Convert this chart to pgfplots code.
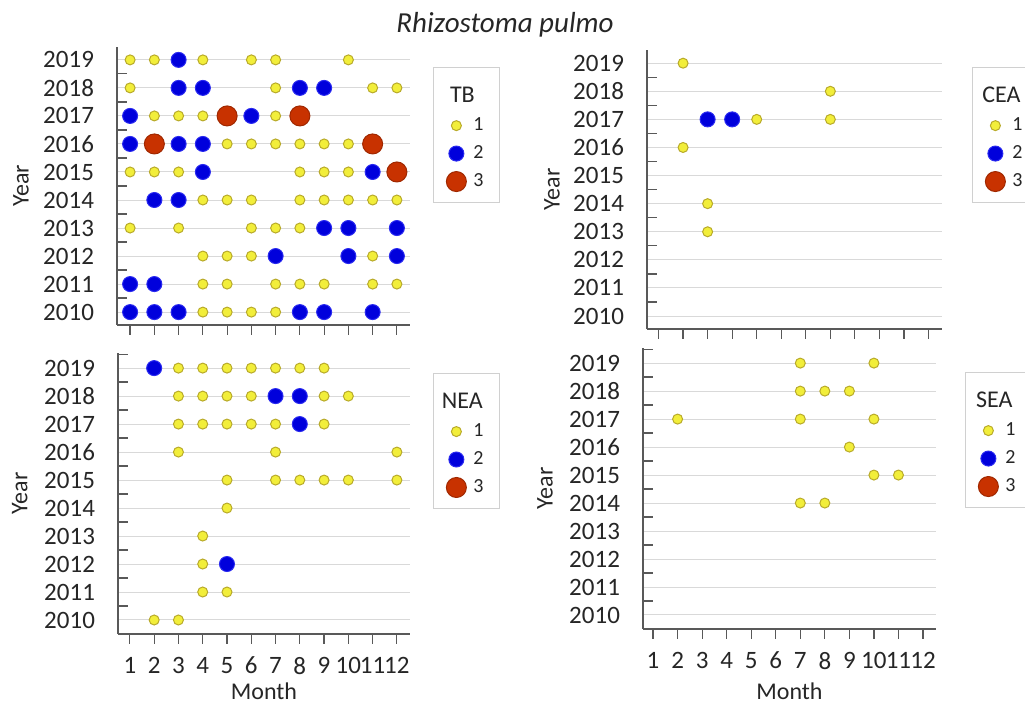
\documentclass[border=0pt]{standalone}
\usepackage{pgfplots}
\pgfplotsset{compat=1.18}
\usepackage{fontspec}
\setmainfont{Carlito}
\definecolor{yfill}{HTML}{F2EE3A}
\definecolor{ydraw}{HTML}{B8AA2A}
\definecolor{bfill}{HTML}{0000DC}
\definecolor{bdraw}{HTML}{2A2AF0}
\definecolor{rfill}{HTML}{C83200}
\definecolor{rdraw}{HTML}{A02800}
\definecolor{axgray}{HTML}{595959}
\definecolor{gridgray}{HTML}{D9D9D9}
\definecolor{leggray}{HTML}{D0D0D0}
\definecolor{txt}{HTML}{262626}

\newcommand{\legtitle}[1]{\rlap{\hspace*{-5.5pt}\makebox[0pt][c]{\fontsize{12}{14}\selectfont #1}}\rule[-6.8pt]{0pt}{17.9pt}}

\pgfplotsset{
  sA/.style={only marks, mark=*, mark size=2.5pt, mark options={fill=yfill, draw=ydraw, line width=0.5pt}},
  sB/.style={only marks, mark=*, mark size=3.75pt, mark options={fill=bfill, draw=bdraw, line width=0.5pt}},
  sC/.style={only marks, mark=*, mark size=5pt, mark options={fill=rfill, draw=rdraw, line width=0.5pt}},
  panel/.style={
    scale only axis,
    anchor=south west,
    clip=false,
    axis x line=bottom, axis y line=left,
    axis line style={-, draw=axgray, line width=0.6pt},
    xtick={1,...,12},
    ytick={2010,...,2019},
    yticklabels={2010,2011,2012,2013,2014,2015,2016,2017,2018,2019},
    tick align=outside,
    major tick length=5pt,
    xtick style={draw=axgray, line width=0.6pt},
    ytick style={draw=none},
    extra y ticks={2010.5,2011.5,2012.5,2013.5,2014.5,2015.5,2016.5,2017.5,2018.5,2019.5},
    extra y tick labels={},
    extra y tick style={grid=none, tick align=inside, ytick style={draw=axgray, line width=0.6pt}},
    ymajorgrids,
    major grid style={draw=gridgray, line width=0.5pt},
    tick label style={font=\fontsize{12.5}{15}\selectfont, text=txt},
    yticklabel style={xshift=-3pt},
    xticklabel style={yshift=-3pt},
    label style={font=\fontsize{12}{14}\selectfont, text=txt},
    ylabel={Year},
    legend cell align=left,
    legend image code/.code={\draw[mark repeat=2,mark phase=2,##1] plot coordinates {(0cm,0cm) (0.2cm,0cm) (0.4cm,0cm)};},
    legend style={anchor=north west, draw=leggray, fill=white, line width=0.5pt,
      font=\fontsize{10}{12}\selectfont, text=txt, row sep=2pt, column sep=1.5pt,
      inner xsep=5.75pt, inner ysep=4.5pt},
  },
}

\begin{document}
\begin{tikzpicture}
\useasboundingbox (0,0) rectangle (512.5pt,353pt);

\node[font=\fontsize{14.5}{16}\selectfont\itshape, text=txt] at (252.5pt,340.5pt) {Rhizostoma pulmo};

% ---------------- TB ----------------
\begin{axis}[panel, at={(58.5pt,190.5pt)}, width=146.5pt, height=139pt,
  xmin=0.46, xmax=12.54, ymin=2009.54, ymax=2019.46,
  xticklabels={},
  ylabel style={at={(axis description cs:-0.328,0.5)}, anchor=center},
  legend style={at={(1.0785,0.928)}}]
\addlegendimage{empty legend}
\addlegendentry{\legtitle{TB}}
\addplot[sA] coordinates {
 (1,2019) (2,2019) (4,2019) (6,2019) (7,2019) (10,2019)
 (1,2018) (7,2018) (11,2018) (12,2018)
 (2,2017) (3,2017) (4,2017) (7,2017)
 (5,2016) (6,2016) (7,2016) (8,2016) (9,2016) (10,2016)
 (1,2015) (2,2015) (3,2015) (8,2015) (9,2015) (10,2015)
 (4,2014) (5,2014) (6,2014) (8,2014) (9,2014) (10,2014) (11,2014) (12,2014)
 (1,2013) (3,2013) (6,2013) (7,2013) (8,2013)
 (4,2012) (5,2012) (6,2012) (11,2012)
 (4,2011) (5,2011) (7,2011) (8,2011) (9,2011) (11,2011) (12,2011)
 (4,2010) (5,2010) (6,2010) (7,2010)
};
\addlegendentry{1}
\addplot[sB] coordinates {
 (3,2019)
 (3,2018) (4,2018) (8,2018) (9,2018)
 (1,2017) (6,2017)
 (1,2016) (3,2016) (4,2016)
 (4,2015) (11,2015)
 (2,2014) (3,2014)
 (9,2013) (10,2013) (12,2013)
 (7,2012) (10,2012) (12,2012)
 (1,2011) (2,2011)
 (1,2010) (2,2010) (3,2010) (8,2010) (9,2010) (11,2010)
};
\addlegendentry{2}
\addplot[sC] coordinates {
 (5,2017) (8,2017) (2,2016) (11,2016) (12,2015)
};
\addlegendentry{3}
\end{axis}

% ---------------- CEA ----------------
\begin{axis}[panel, at={(323.5pt,188.5pt)}, width=147.5pt, height=139.5pt,
  xmin=0.53, xmax=12.55, ymin=2009.54, ymax=2019.47,
  xticklabels={},
  ylabel style={at={(axis description cs:-0.322,0.5)}, anchor=center},
  legend style={at={(1.1017,0.939)}}]
\addlegendimage{empty legend}
\addlegendentry{\legtitle{CEA}}
\addplot[sA] coordinates {
 (2,2019) (8,2018) (5,2017) (8,2017) (2,2016) (3,2014) (3,2013)
};
\addlegendentry{1}
\addplot[sB] coordinates {
 (3,2017) (4,2017)
};
\addlegendentry{2}
\addlegendimage{sC}
\addlegendentry{3}
\end{axis}

% ---------------- NEA ----------------
\begin{axis}[panel, at={(59pt,36pt)}, width=146pt, height=140.5pt,
  xmin=0.51, xmax=12.54, ymin=2009.5, ymax=2019.54,
  xticklabels={1,2,3,4,5,6,7,8,9,10,11,12},
  xlabel={Month},
  xlabel style={at={(axis description cs:0.5,-0.203)}, anchor=center},
  ylabel style={at={(axis description cs:-0.336,0.5)}, anchor=center},
  legend style={at={(1.0788,0.929)}}]
\addlegendimage{empty legend}
\addlegendentry{\legtitle{NEA}}
\addplot[sA] coordinates {
 (3,2019) (4,2019) (5,2019) (6,2019) (7,2019) (8,2019) (9,2019)
 (3,2018) (4,2018) (5,2018) (6,2018) (9,2018) (10,2018)
 (3,2017) (4,2017) (5,2017) (6,2017) (7,2017) (9,2017)
 (3,2016) (7,2016) (12,2016)
 (5,2015) (7,2015) (8,2015) (9,2015) (10,2015) (12,2015)
 (5,2014) (4,2013) (4,2012) (4,2011) (5,2011) (2,2010) (3,2010)
};
\addlegendentry{1}
\addplot[sB] coordinates {
 (2,2019) (7,2018) (8,2018) (8,2017) (5,2012)
};
\addlegendentry{2}
\addlegendimage{sC}
\addlegendentry{3}
\end{axis}

% ---------------- SEA ----------------
\begin{axis}[panel, at={(321.5pt,38.5pt)}, width=146.5pt, height=140.5pt,
  xmin=0.59, xmax=12.53, ymin=2009.5, ymax=2019.54,
  xticklabels={1,2,3,4,5,6,7,8,9,10,11,12},
  xlabel={Month},
  xlabel style={at={(axis description cs:0.5,-0.221)}, anchor=center},
  ylabel style={at={(axis description cs:-0.334,0.5)}, anchor=center},
  legend style={at={(1.099,0.9146)}}]
\addlegendimage{empty legend}
\addlegendentry{\legtitle{SEA}}
\addplot[sA] coordinates {
 (7,2019) (10,2019) (7,2018) (8,2018) (9,2018) (2,2017) (7,2017) (10,2017)
 (9,2016) (10,2015) (11,2015) (7,2014) (8,2014)
};
\addlegendentry{1}
\addlegendimage{sB}
\addlegendentry{2}
\addlegendimage{sC}
\addlegendentry{3}
\end{axis}
\end{tikzpicture}
\end{document}
